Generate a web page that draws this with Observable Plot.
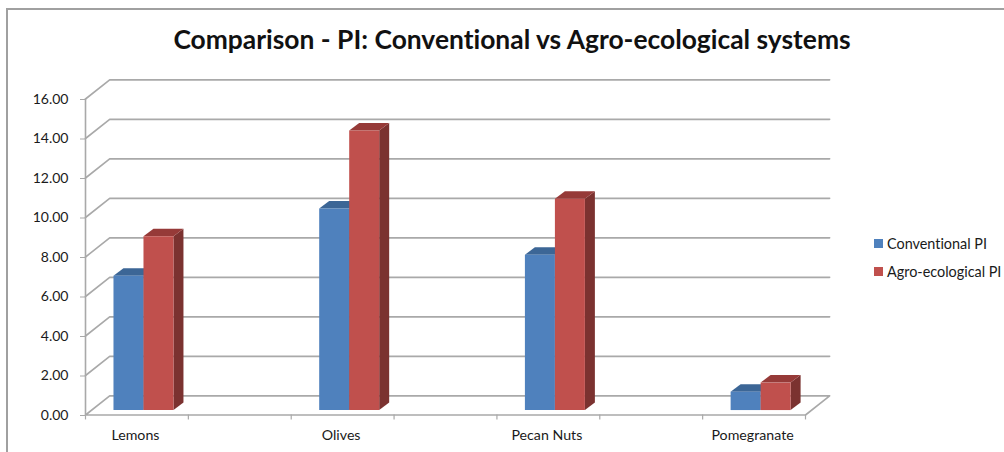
<!DOCTYPE html>
<html>
<head>
<meta charset="utf-8">
<script src="https://cdn.jsdelivr.net/npm/d3@7"></script>
<script src="https://cdn.jsdelivr.net/npm/@observablehq/plot@0.6"></script>
<style>
  html, body { margin: 0; padding: 0; background: #fff; }
  #chart { position: relative; width: 1004px; height: 452px; overflow: hidden; font-family: Lato, "Open Sans", sans-serif; font-variant-ligatures: none; color: #1a1a1a; }
  #chart svg { position: absolute; left: 0; top: 0; font-variant-ligatures: none; }
  #frame { position: absolute; left: 6px; top: 8px; right: -4px; bottom: -4px; border: 2px solid #a0a0a0; }
  #title { position: absolute; left: 0; width: 1024px; top: 23px; text-align: center; font-size: 26.4px; font-weight: 700; color: #111; white-space: nowrap; }
  .key { position: absolute; left: 874px; font-size: 14.4px; line-height: 16px; white-space: nowrap; }
  .key i { position: absolute; left: 0; top: 3px; width: 9px; height: 9px; }
  .key span { position: absolute; left: 13px; top: 0; }
</style>
</head>
<body>
<div id="chart">
  <div id="frame"></div>
  <div id="title">Comparison - PI: Conventional vs Agro-ecological systems</div>
  <div class="key" style="top:236px"><i style="background:#4f81bd"></i><span>Conventional PI</span></div>
  <div class="key" style="top:264px"><i style="background:#c0504d"></i><span>Agro-ecological PI</span></div>
</div>
<script>
// Crops and their scores; each crop sits in every other category slot.
const categories = ["Lemons", "Olives", "Pecan Nuts", "Pomegranate"];
const conventional = [6.8, 10.2, 7.87, 0.93];
const agroEcological = [8.8, 14.16, 10.7, 1.39];
const valueTicks = [0, 2, 4, 6, 8, 10, 12, 14, 16];

// Oblique projection of the chart box, in slot units across and value units up.
const slotCount = 7;
const floorDepth = {x: 0.235, y: 0.97};
const barInset = {x: 0.272, y: 0.25};
const barDepth = {x: 0.097, y: 0.38};
const barWidth = 0.2917;

const seriesStyles = [
  {values: conventional, front: "#4f81bd", top: "#3c6696", side: "#2f5480", offset: 0},
  {values: agroEcological, front: "#c0504d", top: "#963a38", side: "#7b3230", offset: barWidth}
];

// One closed polygon per bar face, so depth follows the same scales as the bars.
function barFaces(style, face) {
  return style.values.flatMap((v, i) => {
    const x1 = i * 2 + barInset.x + style.offset;
    const x2 = x1 + barWidth;
    const y0 = barInset.y;
    const y1 = barInset.y + v;
    const d = barDepth;
    const corners = face === "front"
      ? [[x1, y0], [x2, y0], [x2, y1], [x1, y1]]
      : face === "top"
      ? [[x1, y1], [x2, y1], [x2 + d.x, y1 + d.y], [x1 + d.x, y1 + d.y]]
      : [[x2, y0], [x2 + d.x, y0 + d.y], [x2 + d.x, y1 + d.y], [x2, y1]];
    return corners.map(([x, y]) => ({x, y, id: i}));
  });
}

// Wall gridlines: a diagonal on the side wall, then across the back wall.
const gridPoints = valueTicks.filter(v => v > 0).flatMap(v => [
  {x: 0, y: v, id: v},
  {x: floorDepth.x, y: v + floorDepth.y, id: v},
  {x: slotCount + floorDepth.x, y: v + floorDepth.y, id: v}
]);
const floorPoints = [
  {x: 0, y: 0},
  {x: floorDepth.x, y: floorDepth.y},
  {x: slotCount + floorDepth.x, y: floorDepth.y},
  {x: slotCount, y: 0},
  {x: 0, y: 0}
];
const slotEdges = d3.range(slotCount + 1);
const gridColor = "#a9a9a9";

const faceMarks = seriesStyles.flatMap(style =>
  ["side", "top", "front"].map(face =>
    Plot.line(barFaces(style, face), {x: "x", y: "y", z: "id", fill: style[face], stroke: null, curve: "linear"})
  )
);

const plot = Plot.plot({
  width: 1004,
  height: 452,
  marginLeft: 85,
  marginRight: 199,
  marginTop: 98,
  marginBottom: 38,
  style: {background: "transparent", fontFamily: "Lato, 'Open Sans', sans-serif"},
  x: {type: "linear", domain: [0, slotCount], range: [85, 805]},
  y: {domain: [0, 16], range: [414.5, 98.5]},
  marks: [
    Plot.line(gridPoints, {x: "x", y: "y", z: "id", stroke: gridColor, strokeWidth: 1.6}),
    Plot.line(floorPoints, {x: "x", y: "y", stroke: gridColor, strokeWidth: 1.6}),
    Plot.ruleX([0], {y1: 0, y2: 16, stroke: gridColor, strokeWidth: 1.6}),
    Plot.ruleX(slotEdges, {x: d => d, y1: 0, y2: -0.25, stroke: gridColor, strokeWidth: 1.2}),
    ...faceMarks,
    Plot.tickY(valueTicks, {y: d => d, x1: 0, x2: 0, stroke: "none"}),
    Plot.axisY({
      ticks: valueTicks,
      tickFormat: d3.format(".2f"),
      tickSize: 5,
      tickPadding: 12,
      label: null,
      fontSize: 14,
      dy: 0.5,
      stroke: gridColor,
      fill: "#1a1a1a"
    }),
    Plot.axisX({
      ticks: categories.map((_, i) => i * 2 + 0.5),
      tickFormat: t => categories[(t - 0.5) / 2],
      tickSize: 0,
      tickPadding: 15.5,
      label: null,
      fontSize: 14.2,
      dx: -1.5,
      fill: "#1a1a1a"
    })
  ]
});
document.getElementById("chart").appendChild(plot);
</script>
</body>
</html>
